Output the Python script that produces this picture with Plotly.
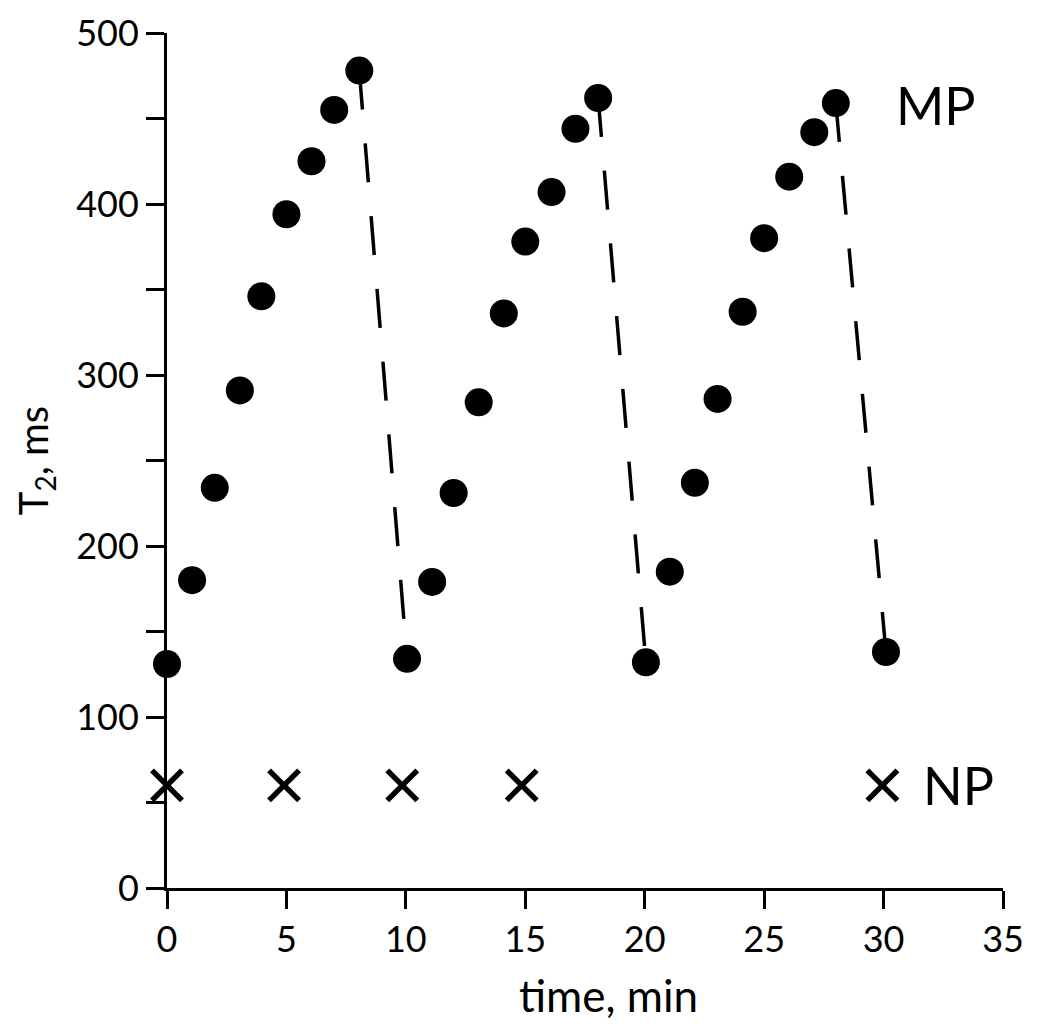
import plotly.graph_objects as go

# MP series (T2 in ms vs time in min)
mp_time = [0, 1.05, 2.0, 3.05, 3.95, 5.0, 6.05, 7.0, 8.05,
           10.05, 11.1, 12.0, 13.05, 14.1, 15.0, 16.1, 17.1, 18.05,
           20.05, 21.05, 22.1, 23.05, 24.1, 25.0, 26.05, 27.1, 28.0,
           30.1]
mp_t2 = [131, 180, 234, 291, 346, 394, 425, 455, 478,
         134, 179, 231, 284, 336, 378, 407, 444, 462,
         132, 185, 237, 286, 337, 380, 416, 442, 459,
         138]

# NP series
np_time = [0, 4.9, 9.85, 14.85, 29.95]
np_t2 = [60, 60, 60, 60, 60]

# dashed drops: (peak index, following trough index) in the MP arrays
drops = [(8, 9), (17, 18), (26, 27)]

y_tickvals = [0, 100, 200, 300, 400, 500]
x_tickvals = [0, 5, 10, 15, 20, 25, 30, 35]

FONT = "Lato"

fig = go.Figure()

# dashed connectors between the end of one cycle and the start of the next
dx, dy = [], []
for a, b in drops:
    dx += [mp_time[a], mp_time[b], None]
    dy += [mp_t2[a], mp_t2[b], None]
fig.add_trace(go.Scatter(
    x=dx, y=dy, mode="lines",
    line=dict(color="black", width=3.5, dash="39px,34px"),
    hoverinfo="skip", showlegend=False
))

fig.add_trace(go.Scatter(
    x=mp_time, y=mp_t2, mode="markers", name="MP",
    marker=dict(symbol="circle", size=28, color="black"),
    cliponaxis=False, showlegend=False
))

fig.add_trace(go.Scatter(
    x=np_time, y=np_t2, mode="markers", name="NP",
    marker=dict(symbol="x-thin", size=30, color="black",
                line=dict(color="black", width=5.5)),
    cliponaxis=False, showlegend=False
))

fig.add_annotation(x=30.45, y=458, text="MP", showarrow=False,
                   xanchor="left", yanchor="middle",
                   font=dict(family=FONT, size=52, color="black"))
fig.add_annotation(x=31.55, y=60, text="NP", showarrow=False,
                   xanchor="left", yanchor="middle",
                   font=dict(family=FONT, size=52, color="black"))

# x axis title, sits a little right of the plot centre in the original
fig.add_annotation(x=0.528, y=-0.125, xref="paper", yref="paper",
                   text="time, min", showarrow=False,
                   xanchor="center", yanchor="middle",
                   font=dict(family=FONT, size=44, color="black"))

fig.update_layout(
    width=1034, height=1013,
    margin=dict(l=159, r=39, t=25, b=133),
    paper_bgcolor="white", plot_bgcolor="white",
    font=dict(family=FONT, size=36, color="black"),
    showlegend=False,
    xaxis=dict(
        range=[0, 35], tickvals=x_tickvals, automargin=False,
        showline=True, linecolor="black", linewidth=3,
        ticks="outside", ticklen=18, tickwidth=3, tickcolor="black",
        showgrid=False, zeroline=False,
    ),
    yaxis=dict(
        range=[0, 500], tickvals=y_tickvals, automargin=False,
        showline=True, linecolor="black", linewidth=3,
        ticks="outside", ticklen=18, tickwidth=3, tickcolor="black",
        minor=dict(dtick=50, ticks="outside", ticklen=18, tickwidth=3,
                   tickcolor="black", showgrid=False),
        showgrid=False, zeroline=False,
        title=dict(text="T<sub>2</sub>, ms", font=dict(size=40), standoff=16),
    ),
)

fig.write_html("out.html")
